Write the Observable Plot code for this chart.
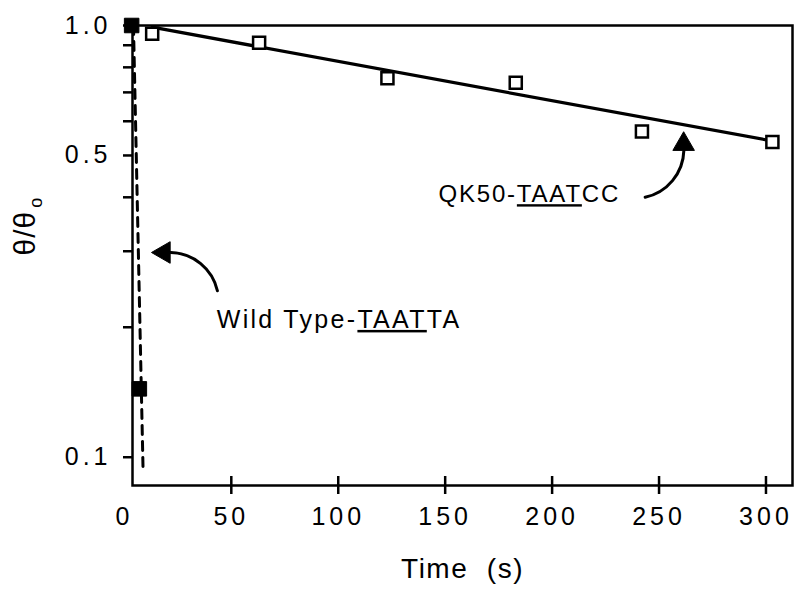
<!DOCTYPE html>
<html><head><meta charset="utf-8">
<script src="https://cdn.jsdelivr.net/npm/d3@7"></script>
<script src="https://cdn.jsdelivr.net/npm/@observablehq/plot@0.6"></script>
<style>
body{margin:0;background:#fff;}
#chart svg{display:block;}
</style></head><body><div id="chart"></div>
<script>
// QK50-TAATCC (open squares) and its fit
const qkTime = [13, 63, 123, 183, 242, 303];
const qkTheta = [0.957, 0.912, 0.755, 0.737, 0.568, 0.537];
const qkFitTime = [13, 303];
const qkFitTheta = [0.991, 0.540];
// Wild Type-TAATTA (filled squares) and its fit
const wtTime = [3.4, 7.0];
const wtTheta = [1.0, 0.144];
const wtFitTime = [4.25, 8.73];
const wtFitTheta = [1.0, 0.094];
// axes
const xTickValues = [50, 100, 150, 200, 250, 300];
const xTickLabels = [0, 50, 100, 150, 200, 250, 300];
const yTickValues = [0.1, 0.2, 0.3, 0.4, 0.5, 0.6, 0.7, 0.8, 0.9, 1.0];
const yTickLabels = [0.1, 0.5, 1.0];
const xDomain = [3.8, 312.4];
const yDomain = [0.086, 1.0];
const xTitle = "Time  (s)";
const yTitleMain = "θ/θ";
const yTitleSub = "o";
// annotations: [QK50, Wild Type]
const annotText = ["QK50-TAATCC", "Wild Type-TAATTA"];
const annotUnderline = [[5, 9], [10, 14]];
const annotTime = [231.8, 43.2];
const annotTheta = [0.406, 0.208];
const arrowFromTime = [243.5, 43.5];
const arrowFromTheta = [0.40, 0.243];
const arrowToTime = [261.6, 21.7];
const arrowToTheta = [0.513, 0.298];
const arrowBend = [-38, -38];
const headTime = [261.5, 18.5];
const headTheta = [0.531, 0.298];
const headRotate = [0, -90];

const qk = qkTime.map((t, i) => ({t, v: qkTheta[i]}));
const qkFit = qkFitTime.map((t, i) => ({t, v: qkFitTheta[i]}));
const wt = wtTime.map((t, i) => ({t, v: wtTheta[i]}));
const wtFit = wtFitTime.map((t, i) => ({t, v: wtFitTheta[i]}));
const arrows = arrowFromTime.map((t, i) => ({x1: t, y1: arrowFromTheta[i], x2: arrowToTime[i], y2: arrowToTheta[i]}));
const heads = headTime.map((t, i) => ({t, v: headTheta[i], r: headRotate[i]}));

const chart = Plot.plot({
  width: 795, height: 611,
  marginLeft: 132, marginRight: 3, marginTop: 25, marginBottom: 126,
  style: {fontFamily: "'Liberation Sans', Arial, sans-serif", color: "black", background: "white", overflow: "visible"},
  x: {domain: xDomain},
  y: {type: "log", domain: yDomain},
  marks: [
    Plot.frame({stroke: "black", strokeWidth: 2.5}),
    Plot.axisY({ticks: yTickValues, tickSize: 9, tickPadding: 16, strokeWidth: 2.5, fontSize: 25,
      tickFormat: d => yTickLabels.some(l => Math.abs(l - d) < 1e-9) ? d.toFixed(1) : "", label: null}),
    Plot.axisX({ticks: xTickValues, tickSize: 18, dy: -9, strokeWidth: 2.5, tickFormat: () => "", label: null}),
    Plot.text(xTickLabels, {x: d => d, frameAnchor: "bottom", dy: 39, text: d => String(d), fontSize: 25}),
    Plot.line(wtFit, {x: "t", y: "v", stroke: "black", strokeWidth: 3, strokeDasharray: "9,7"}),
    Plot.line(qkFit, {x: "t", y: "v", stroke: "black", strokeWidth: 3.2}),
    Plot.dot(qk, {x: "t", y: "v", symbol: "square", r: 6.8, fill: "white", stroke: "black", strokeWidth: 2.5}),
    Plot.dot(wt, {x: "t", y: "v", symbol: "square", r: 8.2, fill: "black", stroke: "black", strokeWidth: 1}),
    Plot.arrow(arrows, {x1: "x1", y1: "y1", x2: "x2", y2: "y2", bend: arrowBend[0], headLength: 0, stroke: "black", strokeWidth: 3}),
    Plot.dot(heads, {x: "t", y: "v", symbol: "triangle", r: 8, rotate: "r", fill: "black", stroke: "black", strokeWidth: 1}),
    Plot.text([annotText[0]], {x: annotTime[0], y: annotTheta[0], text: d => d, textAnchor: "end", fontSize: 24}),
    Plot.text([annotText[1]], {x: annotTime[1], y: annotTheta[1], text: d => d, textAnchor: "start", fontSize: 25}),
    Plot.text([xTitle], {frameAnchor: "bottom", dy: 92, text: d => d, fontSize: 28}),
    Plot.text([yTitleMain], {frameAnchor: "left", dx: -107, rotate: -90, text: d => d, fontSize: 30})
  ]
});
document.getElementById("chart").appendChild(chart);

const NS = "http://www.w3.org/2000/svg";
const allText = Array.from(chart.querySelectorAll("text"));
const findTexts = s => allText.filter(t => t.textContent === s);

// spaced tick labels
const xLabelStrings = xTickLabels.map(String);
allText.forEach(t => {
  const s = t.textContent;
  if (xLabelStrings.includes(s) && !t.closest('g[aria-label*="axis"]')) {
    t.style.letterSpacing = "4px";
  }
});
yTickLabels.map(d => d.toFixed(1)).forEach(s => findTexts(s).forEach(t => {
  t.style.letterSpacing = "4px";
  t.setAttribute("dx", "4");
}));

// underline parts of the annotation labels
annotText.forEach((s, i) => {
  findTexts(s).forEach(t => {
    const [a, b] = annotUnderline[i];
    t.textContent = "";
    t.style.letterSpacing = i === 0 ? "1.8px" : "2.3px";
    [[s.slice(0, a), false], [s.slice(a, b), true], [s.slice(b), false]].forEach(([str, u]) => {
      const sp = document.createElementNS(NS, "tspan");
      sp.textContent = str;
      if (u) { sp.setAttribute("text-decoration", "underline"); sp.style.textDecoration = "underline"; }
      t.appendChild(sp);
    });
  });
});
// x title spacing
findTexts(xTitle).forEach(t => { t.style.whiteSpace = "pre"; t.setAttribute("xml:space", "preserve"); t.style.letterSpacing = "1.5px"; });
// subscript on the y title
findTexts(yTitleMain).forEach(t => {
  t.style.letterSpacing = "1px";
  const sp = document.createElementNS(NS, "tspan");
  sp.textContent = yTitleSub;
  sp.setAttribute("dy", "7");
  sp.setAttribute("dx", "3");
  sp.setAttribute("font-size", "18");
  t.appendChild(sp);
});
</script></body></html>
